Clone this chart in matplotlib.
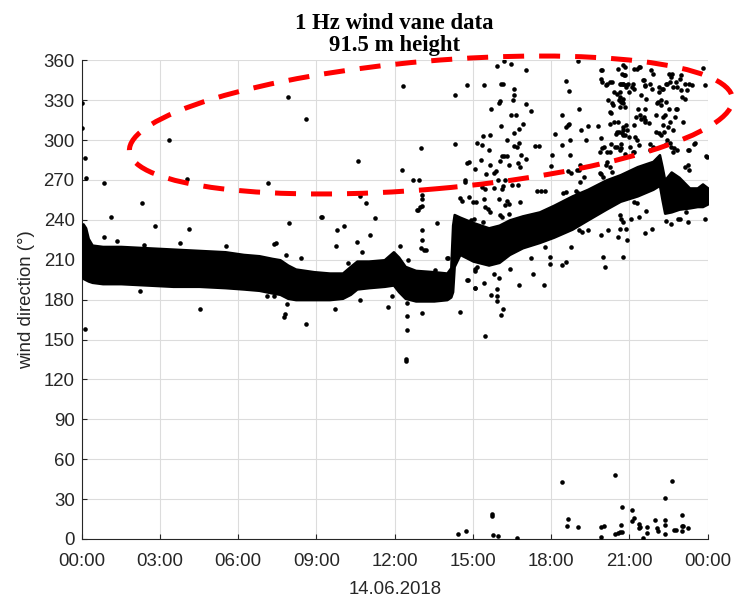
import matplotlib
matplotlib.use("Agg")
import matplotlib.pyplot as plt
from matplotlib.patches import Ellipse
from matplotlib.transforms import IdentityTransform

# Bulk of the 1 Hz samples: lower / upper envelope of the dense band
band_hour = [0.00, 0.05, 0.15, 0.25, 0.4, 0.8, 1.5, 2.5, 3.5, 4.5, 5.5, 6.2, 6.8,
             7.3, 7.6, 7.9, 8.2, 8.9, 9.5, 10.0, 10.3, 10.55, 11.0, 11.6, 11.95,
             12.15, 12.4, 12.8, 13.5, 14.0, 14.15, 14.22, 14.28, 14.5, 15.0, 15.6,
             16.0, 16.4, 16.9, 17.55, 18.1, 18.8, 19.4, 20.1, 20.65, 21.3, 21.9,
             22.15, 22.25, 22.35, 22.6, 22.9, 23.3, 23.6, 23.8, 24.0]
band_low = [203, 196, 195, 194, 193, 192, 192, 191, 190, 190, 189, 188, 187,
            185, 184, 181, 180, 180, 180, 181, 184, 188, 189, 190, 191,
            186, 181, 179, 179, 180, 182, 186, 205, 214, 209, 206,
            208, 214, 219, 223, 227, 233, 240, 248, 254, 258, 263,
            266, 255, 245, 246, 248, 249, 250, 250, 252]
band_high = [233, 237, 234, 226, 221, 220, 220, 219, 218, 217, 216, 214, 213,
             211, 210, 206, 203, 201, 200, 200, 205, 209, 209, 210, 216,
             212, 205, 202, 201, 200, 204, 236, 244, 242, 238, 234,
             236, 240, 243, 246, 251, 258, 263, 270, 274, 280, 284,
             289, 280, 270, 276, 272, 264, 264, 267, 264]

# Individual samples lying away from the band (hour of day, degrees)
spike_hour = [
    # night and morning
    0.01, 0.01, 0.14, 0.15, 0.85, 1.13, 2.31, 2.80, 3.34, 4.03, 4.13, 3.77, 5.52,
    7.15, 7.92, 8.60, 7.95, 9.20, 9.80, 10.07, 10.61, 10.89, 10.67, 9.75, 10.57,
    8.42, 7.85, 7.38, 7.45, 0.85, 1.34, 2.39, 0.00, 0.13, 4.54, 7.74, 7.78, 8.60,
    9.73, 10.67, 7.09, 7.37, 2.23, 7.86, 11.25, 11.05, 10.75, 10.20, 9.16,
    # around noon
    12.33, 13.01, 12.27, 12.71, 12.94, 13.06, 13.06, 12.97, 13.03, 13.04, 12.85,
    12.90, 13.04, 13.00, 13.12, 13.20, 12.20, 12.52, 13.64, 14.02, 13.55, 11.76,
    11.89, 12.46, 12.48, 12.48, 12.42, 12.42, 13.04, 14.50, 15.46, 15.91, 16.07,
    16.14, 14.79, 15.08, 15.07,
    # afternoon
    14.32, 14.77, 15.41, 15.92, 16.18, 16.47, 17.04, 16.07, 16.15, 16.56, 16.56,
    16.53, 15.98, 16.05, 15.69, 17.03, 17.22, 16.46, 16.66, 16.09, 16.93, 16.75,
    16.56, 15.38, 15.64, 14.32, 15.15, 15.35, 15.63, 16.30, 16.76, 16.67, 16.56,
    17.36, 17.52, 16.84, 17.03, 16.11, 16.20, 16.30, 14.83, 14.77, 15.32, 15.64,
    16.02, 16.37, 15.80, 15.88, 15.51, 15.09, 16.73, 16.82, 14.71, 14.68, 16.24,
    15.95, 15.35, 15.47, 15.80, 16.11, 16.15, 16.50, 16.73, 17.45, 14.51, 14.57,
    14.83, 15.00, 15.10, 15.41, 15.98, 16.30, 16.37, 16.24, 16.81, 15.45, 15.58,
    15.66, 16.05, 16.10, 16.37, 15.05, 14.92, 15.38,
    14.03, 14.77, 15.15, 15.09, 15.82, 15.98, 16.43, 17.22, 17.30, 14.80, 15.09,
    15.41, 15.92, 15.94, 15.69, 16.75,
    # evening
    19.02, 19.89, 20.56, 20.75, 18.58, 18.70, 19.92, 20.10, 20.26, 20.68, 20.85,
    20.62, 20.72, 20.17, 20.37, 19.06, 20.28, 18.42, 18.70, 18.64, 18.58, 19.15,
    19.41, 19.79, 20.26, 20.56, 20.60, 20.49, 20.75, 18.13, 19.89, 19.32, 18.73,
    20.30, 20.43, 20.66, 18.42, 19.96, 19.88, 20.24, 18.03, 18.73, 18.00, 18.64,
    18.77, 19.06, 20.11, 19.92, 20.34, 19.09, 19.25, 17.62, 17.78, 18.45, 18.55,
    18.96, 19.02,
    20.62, 20.68, 20.75, 20.85, 20.62, 19.06, 19.19, 19.41, 19.92, 20.17, 20.56,
    20.90, 17.78, 18.77, 17.94, 17.97, 18.42, 18.58, 19.98, 20.08, 17.74,
    # late evening
    20.81, 21.19, 21.38, 21.83, 21.90, 23.81, 23.91, 20.80, 20.75, 20.87, 21.13,
    21.19, 21.00, 21.51, 21.58, 22.15, 22.28, 22.40, 22.66, 22.79, 22.92, 22.98,
    23.30, 23.40, 22.53, 22.60, 22.98, 21.45, 21.64, 23.11, 20.74, 20.68, 20.81,
    21.32, 21.58, 22.09, 22.21, 22.41, 22.53, 22.79, 22.02, 22.28, 21.26, 21.45,
    21.58, 20.87, 20.74, 21.19, 22.28, 22.47, 22.66, 23.04, 22.02, 22.21, 20.81,
    21.00, 21.38, 21.77, 22.41, 22.60, 22.66, 20.68, 20.81, 21.19, 23.49, 23.24,
    23.94, 23.24, 23.30,
    19.94, 19.93, 20.13, 20.32, 20.39, 20.52, 20.64, 20.71, 20.83, 20.64, 20.77,
    20.96, 21.09, 21.28, 21.41, 21.54, 21.60, 21.80, 21.86, 22.12, 22.25, 22.44,
    22.57, 22.63, 22.82, 23.14, 23.20, 23.01, 22.06, 22.19, 20.58, 20.77, 20.32,
    20.64, 20.26, 20.39, 21.41, 21.54, 21.60, 21.73, 22.38, 22.57, 22.82, 22.76,
    20.52, 20.71, 20.77, 20.90, 21.22, 21.28, 22.12, 22.31, 22.44, 22.57, 20.01,
    20.13, 20.52, 20.64, 21.03, 21.15, 21.80, 21.92, 22.70, 22.82, 23.27, 23.52,
    23.96, 20.13, 20.26, 18.98, 19.10, 19.87, 20.00, 23.14,
    21.19, 21.30, 21.64, 21.06, 21.38, 22.41, 22.60, 22.85, 22.95, 23.17, 23.24,
    23.88, 21.86, 21.61, 20.77,
    # samples wrapped around north
    14.44, 14.72, 15.72, 15.72, 15.78, 15.97, 16.68, 18.43, 18.63, 18.60, 19.04,
    19.90, 20.04, 19.90, 20.45, 20.70, 20.45, 20.55, 20.65, 20.72, 20.68, 21.11,
    21.19, 21.11, 21.38, 21.42, 21.35, 21.66, 21.66, 21.50, 21.98, 22.05, 22.10,
    22.37, 22.62, 22.37, 22.37, 22.37, 22.72, 22.80, 23.00, 23.00, 23.06, 23.00,
    23.26,
]
spike_dir = [
    327.5, 309.0, 286.5, 271.5, 267.5, 242.5, 252.5, 235.5, 300.0, 271.0, 233.0,
    222.5, 220.0, 267.5, 332.5, 315.5, 238.0, 242.5, 232.5, 235.0, 284.3, 253.0,
    258.0, 220.7, 223.0, 211.0, 213.6, 222.0, 222.5, 227.0, 224.0, 221.0, 204.0,
    157.7, 173.0, 167.3, 169.0, 162.0, 173.0, 180.0, 182.7, 182.7, 186.7, 177.0,
    241.5, 228.5, 215.7, 207.5, 242.4,
    340.5, 293.8, 277.5, 270.0, 270.0, 259.0, 256.0, 250.0, 250.5, 232.5, 247.5,
    247.5, 225.0, 219.0, 217.5, 217.5, 220.7, 210.0, 237.5, 211.0, 202.5, 174.5,
    183.0, 177.5, 167.5, 157.5, 135.0, 133.5, 170.0, 171.0, 153.0, 178.7, 168.7,
    173.0, 194.5, 189.0, 203.0,
    333.7, 341.2, 341.2, 355.5, 359.5, 357.5, 352.5, 342.0, 342.5, 338.7, 334.2,
    330.0, 328.2, 329.0, 323.6, 327.4, 321.7, 319.0, 318.6, 310.4, 311.9, 308.6,
    305.6, 303.1, 303.6, 297.3, 298.0, 296.0, 292.3, 299.9, 298.1, 294.8, 295.6,
    295.6, 295.6, 288.6, 286.0, 288.1, 288.1, 287.8, 283.6, 282.5, 284.8, 281.0,
    284.0, 281.0, 275.5, 277.0, 274.8, 278.5, 282.5, 280.0, 270.0, 268.5, 269.8,
    269.8, 264.5, 263.0, 264.0, 263.5, 265.5, 266.0, 266.5, 261.5, 256.5, 254.0,
    257.2, 253.5, 253.5, 256.0, 256.0, 254.5, 252.0, 251.0, 253.5, 250.0, 248.5,
    246.0, 244.0, 242.5, 244.7, 241.0, 240.0, 238.5,
    211.4, 213.0, 204.6, 201.5, 199.6, 196.4, 203.4, 211.4, 199.6, 194.6, 189.0,
    192.6, 187.8, 182.8, 183.8, 190.8,
    359.5, 352.5, 353.7, 356.2, 344.2, 336.7, 346.2, 341.2, 343.7, 342.5, 341.2,
    336.2, 328.7, 330.0, 326.2, 323.2, 320.6, 318.6, 312.4, 311.5, 309.9, 307.4,
    310.4, 310.4, 312.4, 313.6, 306.0, 304.5, 303.5, 304.4, 301.6, 300.4, 299.9,
    297.3, 294.8, 297.3, 296.6, 294.1, 291.1, 291.1, 288.6, 289.1, 280.3, 277.0,
    275.5, 277.8, 281.0, 274.8, 276.0, 268.5, 272.3, 261.5, 261.5, 260.5, 261.0,
    262.0, 260.0,
    244.0, 241.0, 238.5, 233.4, 233.0, 232.0, 230.9, 232.2, 228.4, 232.2, 227.2,
    224.7, 219.6, 219.6, 212.1, 207.1, 205.9, 208.4, 212.1, 204.6, 190.8,
    355.0, 353.7, 355.0, 352.5, 350.0, 354.2, 341.2, 348.7, 342.5, 340.0, 342.5,
    338.7, 336.5, 345.0, 340.7, 340.0, 338.7, 342.5, 340.0, 343.7, 346.2, 337.4,
    342.5, 341.2, 350.0, 347.5, 348.7, 333.7, 331.2, 331.2, 331.2, 328.7, 325.0,
    323.7, 323.7, 328.7, 326.2, 328.7, 323.7, 323.7, 318.6, 317.4, 317.4, 316.1,
    313.6, 311.1, 307.4, 311.1, 311.1, 310.0, 307.4, 313.6, 306.1, 303.6, 303.6,
    302.5, 296.0, 297.3, 297.3, 294.8, 291.1, 294.1, 289.8, 291.1, 297.3, 292.3,
    288.1, 281.0, 277.3,
    352.5, 343.7, 342.5, 343.7, 336.0, 335.0, 332.5, 350.0, 348.7, 342.5, 342.5,
    342.5, 340.0, 353.7, 355.0, 345.0, 341.2, 342.5, 338.7, 336.2, 338.7, 342.5,
    343.7, 350.0, 340.0, 342.5, 337.5, 332.5, 327.5, 330.0, 330.0, 327.5, 327.5,
    325.0, 321.2, 313.7, 318.7, 317.5, 315.0, 312.5, 318.7, 313.7, 323.7, 317.5,
    306.2, 305.0, 310.0, 307.5, 302.5, 300.0, 305.0, 306.2, 300.0, 297.5, 295.0,
    291.2, 295.0, 292.5, 295.0, 291.2, 292.5, 295.0, 293.7, 292.5, 292.5, 297.5,
    287.5, 283.7, 280.0, 277.5, 281.2, 275.0, 272.5, 280.0,
    253.5, 252.5, 246.7, 241.0, 242.2, 239.0, 237.2, 241.0, 241.0, 246.0, 238.5,
    240.5, 232.9, 230.4, 212.1,
    3.75, 6.25, 18.75, 17.5, 3.25, 2.5, 0.5, 42.5, 15.0, 9.5, 9.25,
    9.0, 9.5, 1.75, 48.2, 23.75, 4.0, 4.5, 5.5, 5.0, 10.75, 22.0,
    15.75, 13.75, 11.25, 8.75, 8.0, 8.75, 4.25, 0.5, 14.25, 8.0, 5.75,
    31.0, 43.75, 14.25, 10.75, 3.75, 6.75, 6.5, 18.0, 9.5, 10.0, 5.75,
    8.5,
]

x_ticks = [0, 3, 6, 9, 12, 15, 18, 21, 24]
x_tick_labels = ["00:00", "03:00", "06:00", "09:00", "12:00",
                 "15:00", "18:00", "21:00", "00:00"]
y_ticks = [0, 30, 60, 90, 120, 150, 180, 210, 240, 270, 300, 330, 360]

title_lines = ["1 Hz wind vane data", "91.5 m height"]
x_label = "14.06.2018"
y_label = "wind direction (°)"

axis_color = "#262626"
sans = ["Liberation Sans", "DejaVu Sans"]

fig = plt.figure(figsize=(7.34, 5.98), dpi=100)
ax = fig.add_axes([0.1113, 0.0987, 0.8529, 0.8005])

ax.fill_between(band_hour, band_low, band_high, color="black",
                edgecolor="black", linewidth=1.8, zorder=3)
ax.plot(spike_hour, spike_dir, linestyle="none", marker="o",
        markersize=3.3, color="black", markeredgewidth=0, zorder=4)

ax.set_xlim(0, 24)
ax.set_ylim(0, 360)
ax.set_xticks(x_ticks)
ax.set_xticklabels(x_tick_labels)
ax.set_yticks(y_ticks)

ax.grid(True, color="#dcdcdc", linewidth=0.8)
ax.set_axisbelow(True)
for side in ("top", "right"):
    ax.spines[side].set_visible(False)
for side in ("left", "bottom"):
    ax.spines[side].set_color(axis_color)
    ax.spines[side].set_linewidth(0.8)
ax.tick_params(direction="in", length=3.6, width=0.8, color=axis_color,
               labelcolor=axis_color, labelsize=13.4)
ax.tick_params(axis="y", pad=5)
ax.tick_params(axis="x", pad=10)
for lbl in ax.get_xticklabels() + ax.get_yticklabels():
    lbl.set_family(sans)

ax.set_xlabel(x_label, fontsize=13.4, color=axis_color, family=sans, labelpad=8)
ax.set_ylabel(y_label, fontsize=13.4, color=axis_color, family=sans, labelpad=6)
ax.set_title("\n".join(title_lines), fontsize=16.4, fontweight="bold",
             family=["Liberation Serif", "DejaVu Serif"], color="black",
             linespacing=1.05, pad=7)

# highlight of the scattered readings between 260° and 360°
ring = Ellipse((431, 598 - 125), width=2 * 302.7, height=2 * 64, angle=5,
               transform=IdentityTransform(), fill=False, edgecolor="#ff0000",
               linewidth=3.6, linestyle=(0, (4.2, 3.0)), capstyle="butt",
               clip_on=False, zorder=10)
fig.add_artist(ring)

fig.savefig("out.png", dpi=100)
